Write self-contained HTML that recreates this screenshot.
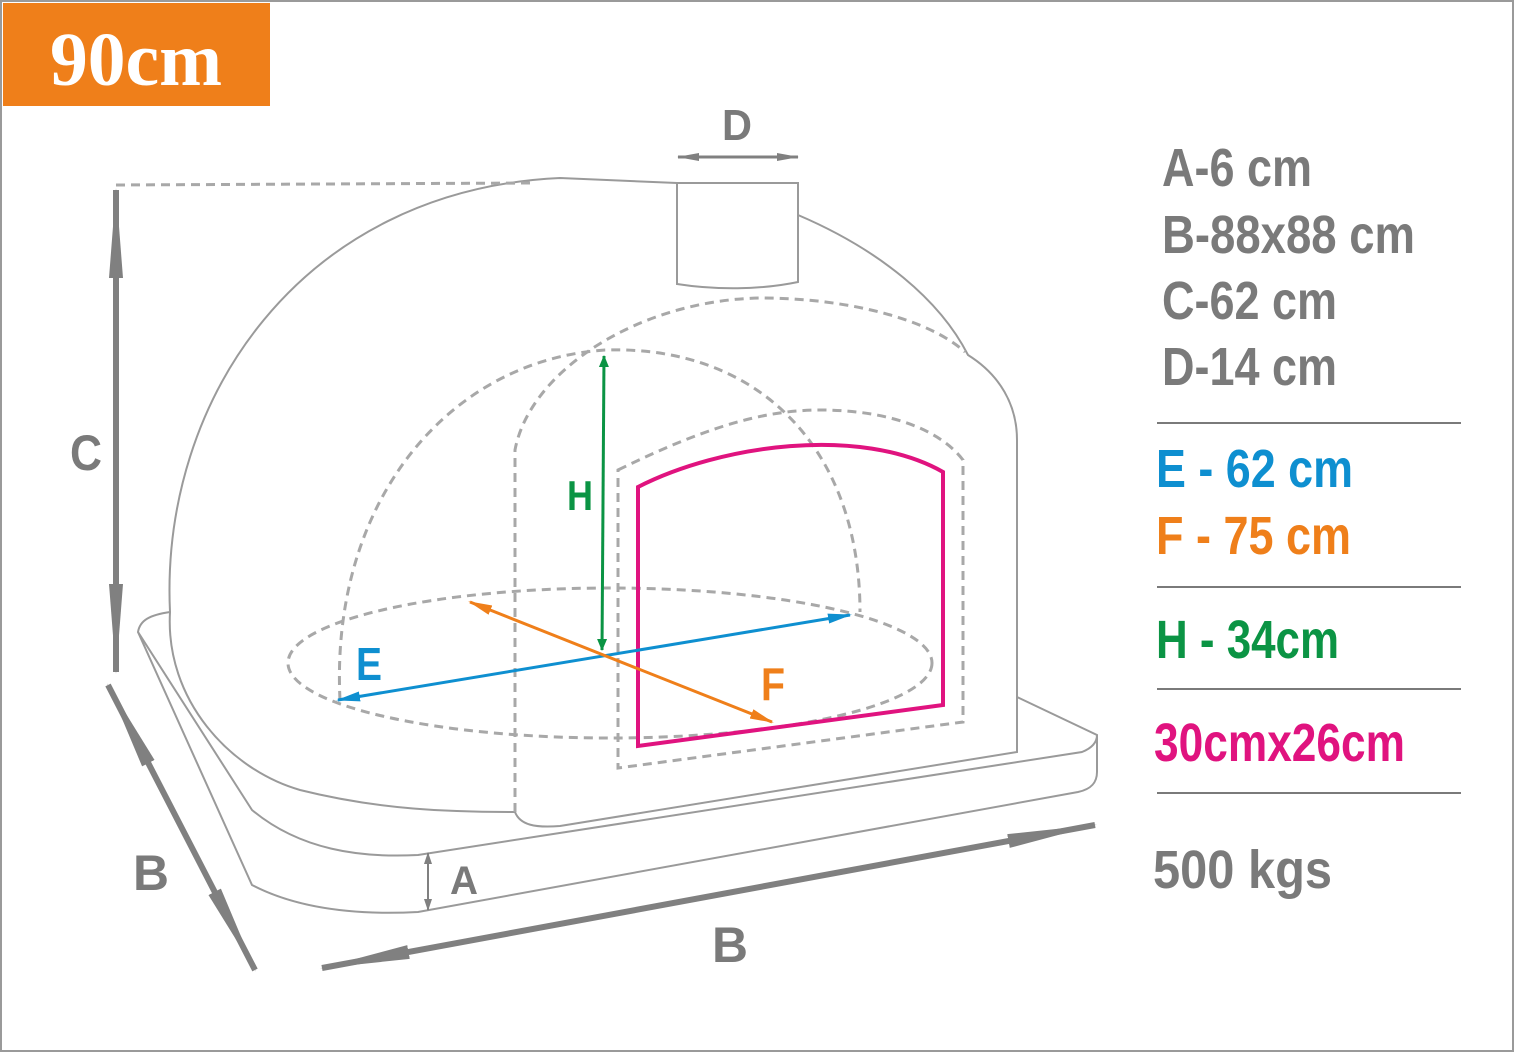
<!DOCTYPE html>
<html><head><meta charset="utf-8"><style>
html,body{margin:0;padding:0;background:#fff;width:1514px;height:1052px;overflow:hidden}
svg{display:block}
.t{font-family:"Liberation Sans Narrow","Liberation Sans",sans-serif;font-weight:bold}
</style></head><body>
<svg width="1514" height="1052" viewBox="0 0 1514 1052" xmlns="http://www.w3.org/2000/svg">
<defs>
<marker id="ag" markerWidth="12" markerHeight="12" refX="11" refY="6" orient="auto-start-reverse" markerUnits="userSpaceOnUse"><path d="M0,1 L12,6 L0,11 z" fill="#0b9444"/></marker>
<marker id="ab" markerWidth="24" markerHeight="12" refX="22" refY="6" orient="auto-start-reverse" markerUnits="userSpaceOnUse"><path d="M0,1 L24,6 L0,11 z" fill="#0e8fd0"/></marker>
<marker id="ao" markerWidth="24" markerHeight="12" refX="22" refY="6" orient="auto-start-reverse" markerUnits="userSpaceOnUse"><path d="M0,1 L24,6 L0,11 z" fill="#ef7f1a"/></marker>
<marker id="agr" markerWidth="90" markerHeight="20" refX="88" refY="10" orient="auto-start-reverse" markerUnits="userSpaceOnUse"><path d="M0,3 L90,10 L0,17 z" fill="#808080"/></marker>
<marker id="ad" markerWidth="22" markerHeight="10" refX="21" refY="5" orient="auto-start-reverse" markerUnits="userSpaceOnUse"><path d="M0,1 L22,5 L0,9 z" fill="#808080"/></marker>
<marker id="aa" markerWidth="12" markerHeight="12" refX="11" refY="6" orient="auto-start-reverse" markerUnits="userSpaceOnUse"><path d="M0,2 L12,6 L0,10 z" fill="#808080"/></marker>
</defs>
<rect x="1" y="1" width="1512" height="1050" fill="#fff" stroke="#9a9a9a" stroke-width="2"/>
<rect x="3" y="3" width="267" height="103" fill="#ef7f1a"/>
<text x="50" y="85" fill="#fff" font-family="Liberation Serif,serif" font-weight="bold" font-size="76" textLength="172" lengthAdjust="spacingAndGlyphs">90cm</text>

<g fill="none" stroke="#9a9a9a" stroke-width="2">
<path d="M170,612 C160,400 300,190 560,178 L677,183"/>
<path d="M798,215 C880,250 940,300 968,355 C1000,375 1017,405 1017,440 L1017,697"/>
<path d="M677,183 L798,183 L798,282 C760,290 715,290 677,284 Z" fill="#fff"/>
<path d="M170,612 C150,615 140,620 138,632 L252,885 C300,910 360,915 418,912 L1078,792 C1092,789 1097,782 1097,772 L1097,735 L1017,697"/>
<path d="M138,632 L252,810 C300,850 360,858 418,855 L1082,752 C1092,748 1097,742 1097,735"/>
<path d="M170,612 C165,700 230,770 300,790 C380,810 450,812 515,812 C520,825 535,828 560,826 L1017,752 L1017,697"/>
</g>
<g fill="none" stroke="#a8a8a8" stroke-width="3" stroke-dasharray="9,6">
<path d="M340,700 C330,500 450,360 605,350 C760,345 860,450 860,612"/>
<ellipse cx="610" cy="663" rx="322" ry="75"/>
<path d="M515,812 L515,450 C530,370 640,300 760,298 C850,298 930,320 965,352"/>
<path d="M618,470 C700,430 760,410 820,410 C890,410 940,430 963,460 L963,722 L618,768 Z"/>
<path d="M116,185 L530,183"/>
</g>
<path d="M638,487 C720,445 860,425 943,472 L943,705 L638,746 Z" fill="none" stroke="#e0137f" stroke-width="4"/>
<line x1="604" y1="356" x2="602" y2="650" stroke="#0b9444" stroke-width="3" marker-start="url(#ag)" marker-end="url(#ag)"/>
<line x1="338" y1="700" x2="850" y2="615" stroke="#0e8fd0" stroke-width="3" marker-start="url(#ab)" marker-end="url(#ab)"/>
<line x1="470" y1="602" x2="772" y2="722" stroke="#ef7f1a" stroke-width="3" marker-start="url(#ao)" marker-end="url(#ao)"/>
<line x1="116" y1="190" x2="116" y2="672" stroke="#808080" stroke-width="6" marker-start="url(#agr)" marker-end="url(#agr)"/>
<line x1="108" y1="685" x2="255" y2="970" stroke="#808080" stroke-width="6" marker-start="url(#agr)" marker-end="url(#agr)"/>
<line x1="322" y1="968" x2="1095" y2="825" stroke="#808080" stroke-width="6" marker-start="url(#agr)" marker-end="url(#agr)"/>
<line x1="678" y1="157" x2="798" y2="157" stroke="#808080" stroke-width="3" marker-start="url(#ad)" marker-end="url(#ad)"/>
<line x1="428" y1="853" x2="428" y2="910" stroke="#808080" stroke-width="2" marker-start="url(#aa)" marker-end="url(#aa)"/>

<g class="t" font-size="50">
<text x="70" y="470" fill="#7a7a7a" textLength="32" lengthAdjust="spacingAndGlyphs">C</text>
<text x="133" y="890" fill="#7a7a7a" textLength="36" lengthAdjust="spacingAndGlyphs">B</text>
<text x="712" y="962" fill="#7a7a7a" textLength="36" lengthAdjust="spacingAndGlyphs">B</text>
<text x="450" y="894" fill="#7a7a7a" font-size="40" textLength="28" lengthAdjust="spacingAndGlyphs">A</text>
<text x="722" y="140" fill="#7a7a7a" font-size="44" textLength="30" lengthAdjust="spacingAndGlyphs">D</text>
<text x="567" y="510" fill="#0b9444" font-size="42" textLength="26" lengthAdjust="spacingAndGlyphs">H</text>
<text x="356" y="680" fill="#0e8fd0" font-size="46" textLength="26" lengthAdjust="spacingAndGlyphs">E</text>
<text x="761" y="700" fill="#ef7f1a" font-size="46" textLength="24" lengthAdjust="spacingAndGlyphs">F</text>
</g>
<g class="t" font-size="54" fill="#7a7a7a" lengthAdjust="spacingAndGlyphs">
<text x="1162" y="186" textLength="150" lengthAdjust="spacingAndGlyphs">A-6 cm</text>
<text x="1162" y="253" textLength="253" lengthAdjust="spacingAndGlyphs">B-88x88 cm</text>
<text x="1162" y="319" textLength="175" lengthAdjust="spacingAndGlyphs">C-62 cm</text>
<text x="1162" y="385" textLength="175" lengthAdjust="spacingAndGlyphs">D-14 cm</text>
<text x="1156" y="487" fill="#0e8fd0" textLength="197" lengthAdjust="spacingAndGlyphs">E - 62 cm</text>
<text x="1156" y="554" fill="#ef7f1a" textLength="195" lengthAdjust="spacingAndGlyphs">F - 75 cm</text>
<text x="1156" y="658" fill="#0b9444" textLength="183" lengthAdjust="spacingAndGlyphs">H - 34cm</text>
<text x="1154" y="761" fill="#e0137f" textLength="251" lengthAdjust="spacingAndGlyphs">30cmx26cm</text>
<text x="1153" y="888" textLength="179" lengthAdjust="spacingAndGlyphs">500 kgs</text>
</g>
<g stroke="#7a7a7a" stroke-width="2">
<line x1="1157" y1="423" x2="1461" y2="423"/>
<line x1="1157" y1="587" x2="1461" y2="587"/>
<line x1="1157" y1="689" x2="1461" y2="689"/>
<line x1="1157" y1="793" x2="1461" y2="793"/>
</g>
</svg>
</body></html>
